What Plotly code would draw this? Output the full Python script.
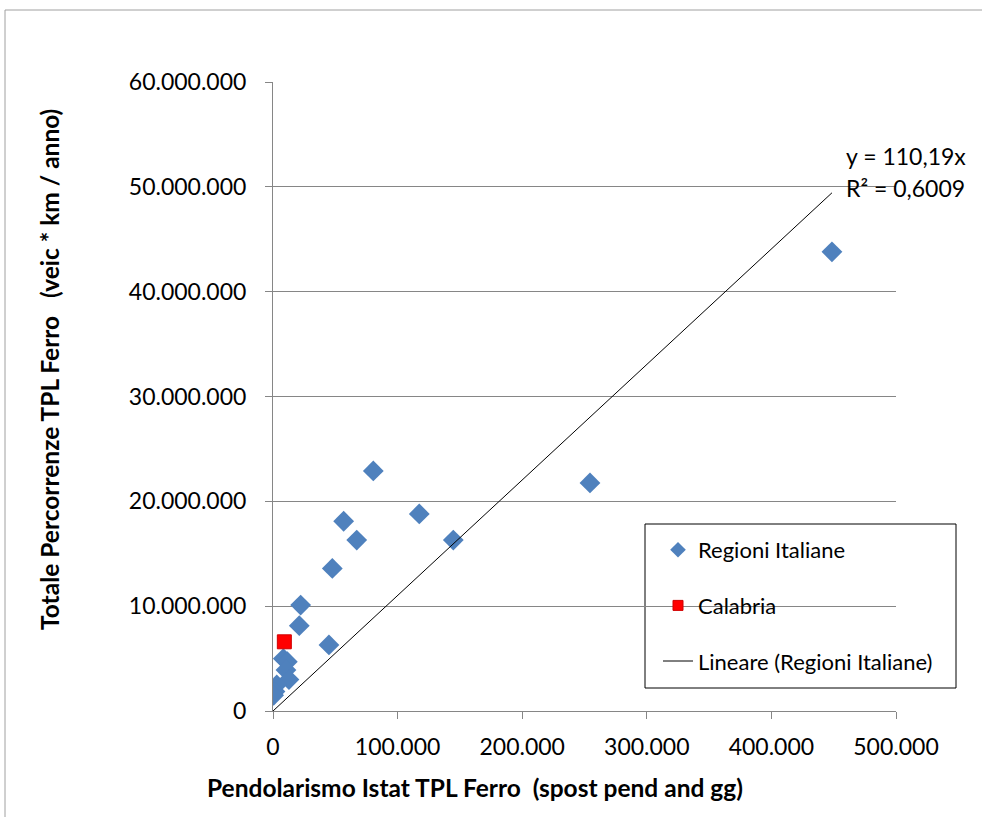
import plotly.graph_objects as go

# Data
regioni_x = [448600, 254400, 144700, 117400, 80500, 67200, 56700, 47600, 44900,
             22200, 21100, 8300, 11500, 10400, 12800, 3000, 1600, 500]
regioni_y = [43800000, 21760000, 16300000, 18800000, 22900000, 16300000, 18100000,
             13600000, 6300000, 10100000, 8140000, 5000000, 4700000, 3900000,
             3000000, 2500000, 1850000, 1500000]
calabria_x = [9100]
calabria_y = [6600000]
trend_slope = 110.19
trend_eq = "y = 110,19x"
trend_r2 = "R² = 0,6009"

x_ticks = [0, 100000, 200000, 300000, 400000, 500000]
y_ticks = [0, 10000000, 20000000, 30000000, 40000000, 50000000, 60000000]

x_title = "Pendolarismo Istat TPL Ferro\u00a0\u00a0(spost pend and gg)"
y_title = "Totale Percorrenze TPL Ferro\u00a0\u00a0\u00a0(veic * km / anno)"

FONT = "Lato"
W, H = 982, 817
L, R, T, B = 273, 86, 82, 106
PW, PH = W - L - R, H - T - B

def px_x(p):
    return (p - L) / PW

def px_y(p):
    return (H - B - p) / PH

trend_x = [0, max(regioni_x)]
trend_y = [trend_slope * v for v in trend_x]

BLUE = "#4F81BD"
RED = "#FF0000"

fig = go.Figure()
fig.add_trace(go.Scatter(
    x=regioni_x, y=regioni_y, mode="markers", name="Regioni Italiane",
    showlegend=False,
    marker=dict(symbol="diamond", size=16, color=BLUE, line=dict(width=0))))
fig.add_trace(go.Scatter(
    x=calabria_x, y=calabria_y, mode="markers", name="Calabria",
    showlegend=False,
    marker=dict(symbol="square", size=14, color=RED,
                line=dict(width=1, color="#D00000"))))
fig.add_trace(go.Scatter(
    x=trend_x, y=trend_y, mode="lines", name="Lineare (Regioni Italiane)",
    showlegend=False, line=dict(color="black", width=1)))

# legend entries (smaller legend symbols as in the reference)
fig.add_trace(go.Scatter(
    x=[None], y=[None], mode="markers", name="Regioni Italiane", legendgroup="a",
    marker=dict(symbol="diamond", size=12, color=BLUE, line=dict(width=0))))
fig.add_trace(go.Scatter(
    x=[None], y=[None], mode="markers", name="Calabria", legendgroup="b",
    marker=dict(symbol="square", size=10, color=RED,
                line=dict(width=1, color="#D00000"))))
fig.add_trace(go.Scatter(
    x=[None], y=[None], mode="lines", name="Lineare (Regioni Italiane)",
    legendgroup="c", line=dict(color="black", width=1)))

for txt, ys in ((trend_eq, 37), (trend_r2, 5)):
    fig.add_annotation(x=trend_x[1], y=trend_y[1], xref="x", yref="y",
                       text=txt, showarrow=False, align="left",
                       xanchor="left", yanchor="middle", xshift=12, yshift=ys,
                       font=dict(family=FONT, size=23, color="black"))

# axis titles
fig.add_annotation(x=px_x(475), y=px_y(787), xref="paper", yref="paper",
                   text="<b>" + x_title + "</b>", showarrow=False,
                   xanchor="center", yanchor="middle",
                   font=dict(family=FONT, size=24.5, color="black"))
fig.add_annotation(x=px_x(49), y=px_y(370), xref="paper", yref="paper",
                   text="<b>" + y_title + "</b>", showarrow=False, textangle=-90,
                   xanchor="center", yanchor="middle",
                   font=dict(family=FONT, size=24.5, color="black"))

# outer chart border
fig.add_shape(type="rect", xref="paper", yref="paper",
              x0=px_x(5), x1=px_x(1000), y0=px_y(830), y1=px_y(10),
              line=dict(color="#A0A0A0", width=1), fillcolor="rgba(0,0,0,0)",
              layer="below")
# legend box
fig.add_shape(type="rect", xref="paper", yref="paper",
              x0=px_x(645), x1=px_x(956), y0=px_y(688), y1=px_y(524),
              line=dict(color="black", width=1), fillcolor="white",
              layer="below")

axis_common = dict(
    showline=True, linecolor="#868686", linewidth=1,
    ticks="outside", ticklen=7, tickcolor="#868686",
    tickfont=dict(family=FONT, size=23, color="black"),
    zeroline=False, tickformat=",d",
)

fig.update_layout(
    width=W, height=H,
    margin=dict(l=L, r=R, t=T, b=B),
    paper_bgcolor="white", plot_bgcolor="white",
    separators=",.",
    font=dict(family=FONT, color="black"),
    showlegend=True,
    legend=dict(x=px_x(658), y=px_y(529), xanchor="left", yanchor="top",
                bgcolor="rgba(0,0,0,0)", borderwidth=0,
                tracegroupgap=24,
                font=dict(family=FONT, size=22, color="black")),
    xaxis=dict(range=[0, 500000], tickvals=x_ticks, showgrid=False,
               ticklabelstandoff=8, **axis_common),
    yaxis=dict(range=[0, 60000000], tickvals=y_ticks, showgrid=True,
               gridcolor="#868686", gridwidth=1, ticklabelstandoff=14,
               **axis_common),
)

fig.write_html("out.html", config={"displayModeBar": False},
               post_script="document.body.style.margin='0';")
